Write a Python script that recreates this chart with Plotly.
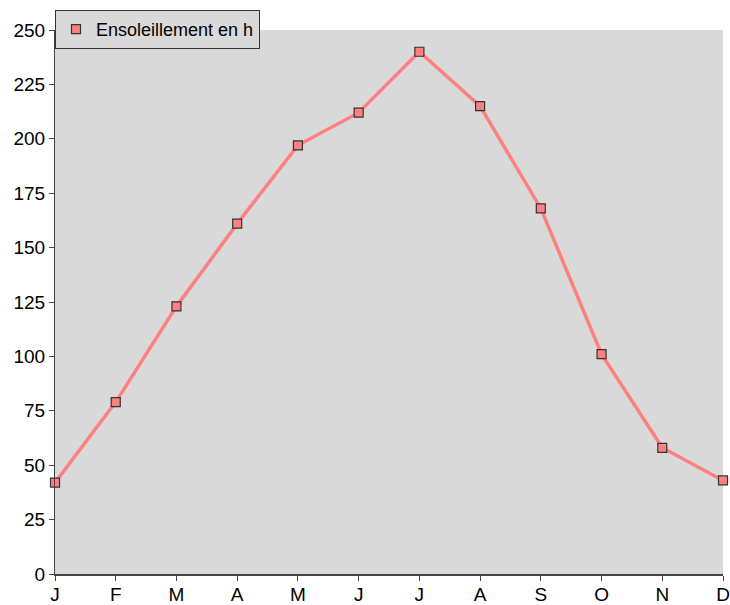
import plotly.graph_objects as go

months = ["J", "F", "M", "A", "M", "J", "J", "A", "S", "O", "N", "D"]
sunshine = [42, 79, 123, 161, 197, 212, 240, 215, 168, 101, 58, 43]
series_name = "Ensoleillement en h"

x_idx = list(range(len(months)))

LINE_COLOR = "#ff8080"
EDGE = "#333333"

fig = go.Figure()
fig.add_trace(go.Scatter(
    x=x_idx, y=sunshine, mode="lines+markers", name=series_name,
    line=dict(color=LINE_COLOR, width=3.5),
    marker=dict(symbol="square", size=9, color=LINE_COLOR,
                line=dict(color=EDGE, width=1.2)),
    cliponaxis=False, showlegend=False,
))
# legend entry: marker only (as in the reference)
fig.add_trace(go.Scatter(
    x=[None], y=[None], mode="markers", name=series_name,
    marker=dict(symbol="square", size=9, color=LINE_COLOR,
                line=dict(color=EDGE, width=1.2)),
    showlegend=True,
))

fig.update_layout(
    width=730, height=605,
    margin=dict(l=55, r=7, t=30, b=31),
    paper_bgcolor="white", plot_bgcolor="#d9d9d9",
    font=dict(family="Liberation Sans, Arial, sans-serif", size=19, color="black"),
    showlegend=True,
    legend=dict(x=0, y=1 + 20 / 544, xanchor="left", yanchor="top",
                xref="paper", yref="paper",
                bgcolor="#d9d9d9", bordercolor=EDGE, borderwidth=1,
                font=dict(size=18), itemwidth=30, tracegroupgap=0),
)
fig.update_xaxes(
    range=[0, 11], tickvals=x_idx, ticktext=months, automargin=False,
    showgrid=False, zeroline=False, showline=True, linecolor="#444444", linewidth=2,
    ticks="outside", ticklen=5, tickcolor="#444444", ticklabelstandoff=-3,
)
fig.update_yaxes(
    range=[0, 250], dtick=25, tick0=0, automargin=False,
    showgrid=False, zeroline=False, showline=True, linecolor="#444444", linewidth=1,
    ticks="outside", ticklen=5, tickcolor="#444444",
)

fig.write_html("out.html", config={"displayModeBar": False},
               post_script="document.body.style.margin='0';document.body.style.overflow='hidden';")
